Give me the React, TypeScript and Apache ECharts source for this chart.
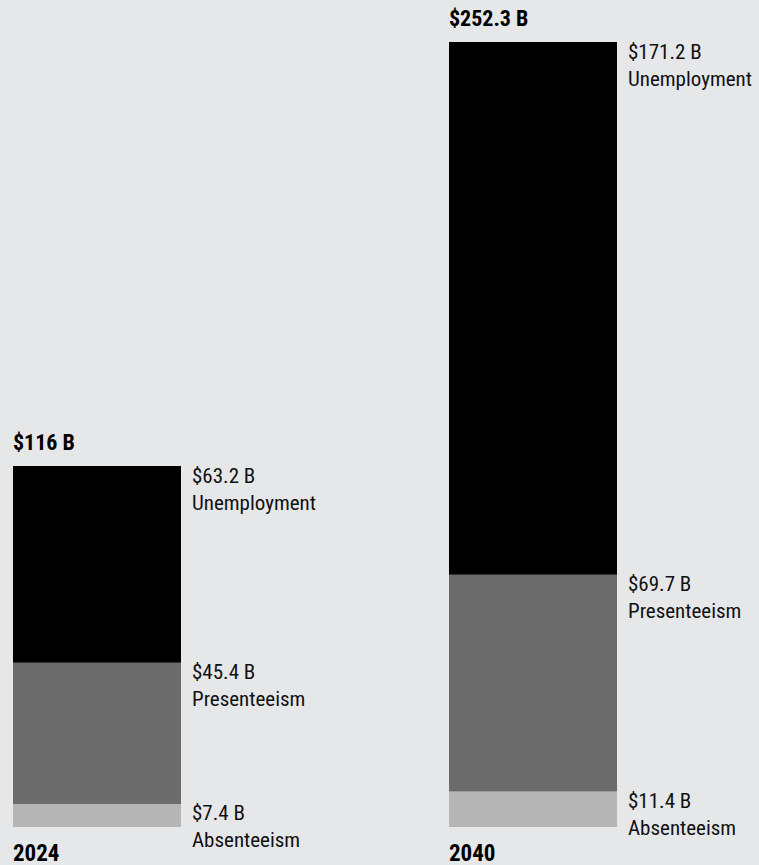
import React, { useEffect, useRef } from "react";
import * as echarts from "echarts";

const years = ["2024", "2040"];
const absenteeism = [7.4, 11.4];
const presenteeism = [45.4, 69.7];
const unemployment = [63.2, 171.2];
const totals = [116, 252.3];

const FONT = "'Roboto Condensed', 'Liberation Sans Narrow', 'DejaVu Sans Condensed', sans-serif";
const BG = "#e6e7e9";

function segLabel(name: string) {
  return {
    show: true,
    position: [179, -4] as any,
    align: "left",
    verticalAlign: "top",
    fontFamily: FONT,
    fontSize: 21,
    lineHeight: 27,
    color: "#111",
    formatter: (p: any) => `$${p.value} B\n${name}`,
  };
}

export default function App() {
  const ref = useRef<HTMLDivElement>(null);
  useEffect(() => {
    if (!ref.current) return;
    const chart = echarts.init(ref.current, undefined, { renderer: "svg" });
    chart.setOption({
      animation: false,
      backgroundColor: BG,
      grid: { left: 0, right: 8, top: 42, bottom: 38 },
      xAxis: { type: "category", data: years, show: false },
      yAxis: { type: "value", min: 0, max: 252.3, show: false },
      series: [
        {
          name: "Year",
          type: "bar",
          stack: "t",
          barWidth: 168,
          data: years.map(() => 0),
          itemStyle: { color: "transparent" },
          label: {
            show: true,
            position: [0, 16] as any,
            align: "left",
            verticalAlign: "top",
            fontFamily: FONT,
            fontSize: 23,
            fontWeight: "bold",
            lineHeight: 20,
            color: "#000",
            formatter: (p: any) => years[p.dataIndex],
          },
        },
        {
          name: "Absenteeism",
          type: "bar",
          stack: "t",
          barWidth: 168,
          data: absenteeism,
          itemStyle: { color: "#b5b5b5" },
          label: segLabel("Absenteeism"),
        },
        {
          name: "Presenteeism",
          type: "bar",
          stack: "t",
          barWidth: 168,
          data: presenteeism,
          itemStyle: { color: "#6b6b6b" },
          label: segLabel("Presenteeism"),
        },
        {
          name: "Unemployment",
          type: "bar",
          stack: "t",
          barWidth: 168,
          data: unemployment,
          itemStyle: { color: "#000000" },
          label: segLabel("Unemployment"),
        },
        {
          name: "Total",
          type: "bar",
          stack: "t",
          barWidth: 168,
          data: years.map(() => 0),
          itemStyle: { color: "transparent" },
          label: {
            show: true,
            position: [0, -13] as any,
            align: "left",
            verticalAlign: "bottom",
            fontFamily: FONT,
            fontSize: 22,
            fontWeight: "bold",
            lineHeight: 22,
            color: "#000",
            formatter: (p: any) => `$${totals[p.dataIndex]} B`,
          },
        },
      ],
    });
    return () => chart.dispose();
  }, []);
  return (
    <div style={{ position: "fixed", left: 0, top: 0, width: 759, height: 865, background: BG, overflow: "hidden" }}>
      <div
        ref={ref}
        style={{ position: "absolute", left: -121, top: 0, width: 880, height: 865 }}
      />
    </div>
  );
}
